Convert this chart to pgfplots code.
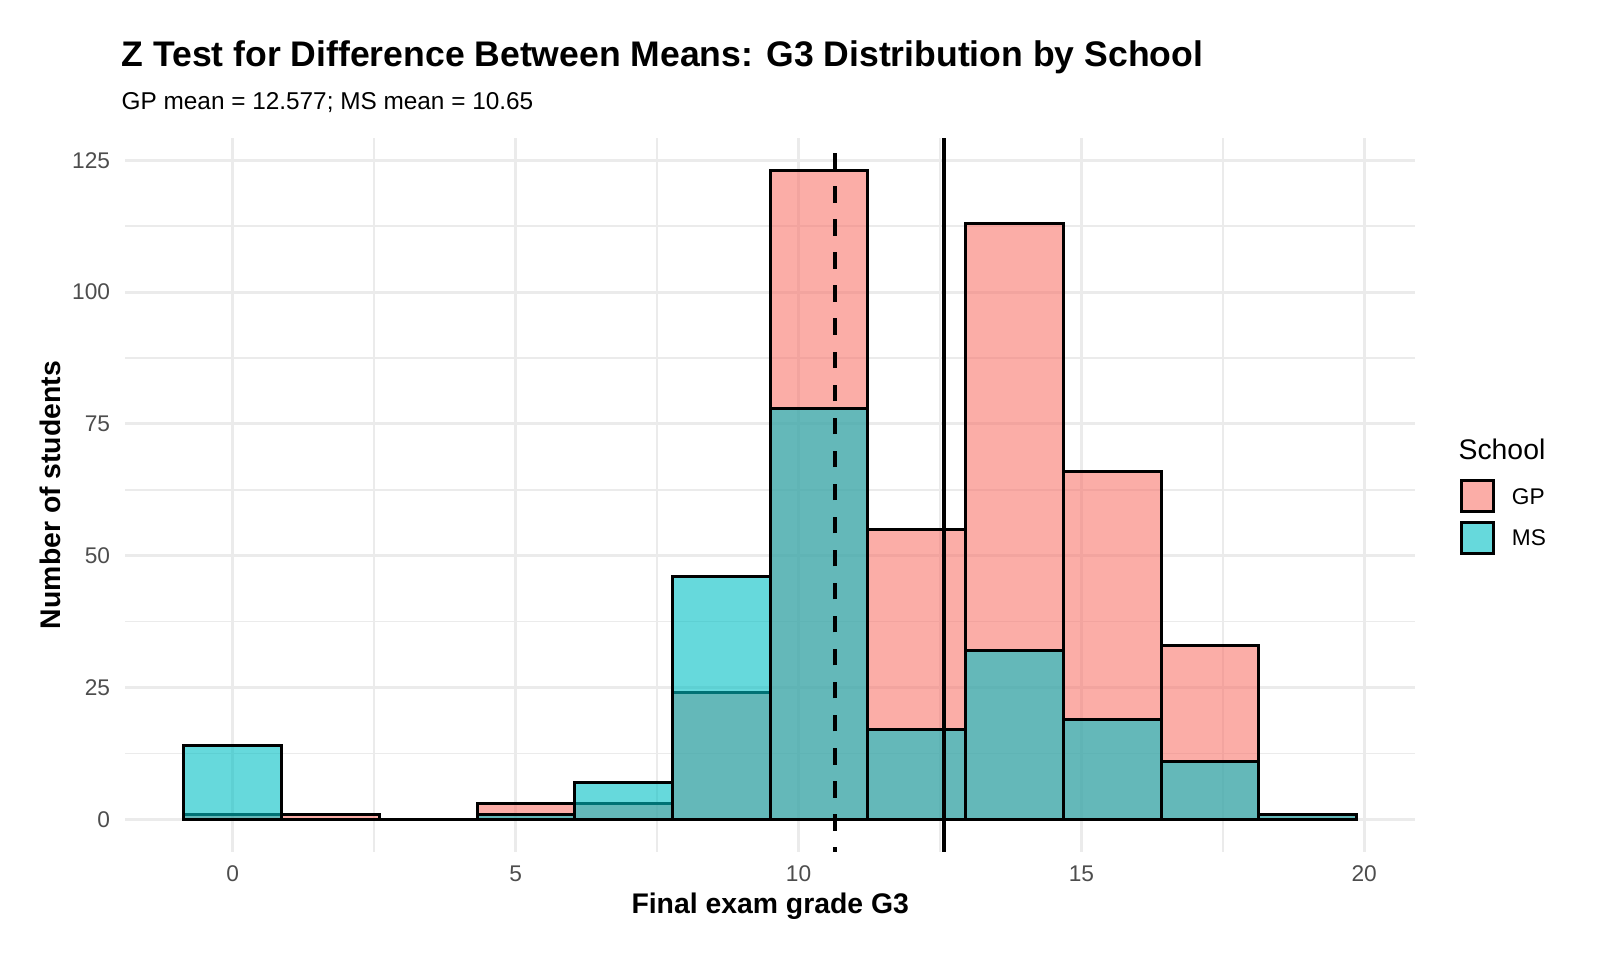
\documentclass[border=0pt]{standalone}
\usepackage{pgfplots}
\pgfplotsset{compat=1.18}
\usepackage{fontspec}
\setmainfont{Liberation Sans}

\definecolor{gpfill}{HTML}{F8766D}
\definecolor{msfill}{HTML}{00BFC4}
\definecolor{gridgrey}{HTML}{EBEBEB}
\definecolor{ticktext}{HTML}{4D4D4D}

% Bin centres (width 19/11) and counts of final grades per school
\pgfplotstableread{
x        gp   ms
0.00000  1    14
1.72727  1    0
3.45455  0    0
5.18182  3    1
6.90909  3    7
8.63636  24   46
10.36364 123  78
12.09091 55   17
13.81818 113  32
15.54545 66   19
17.27273 33   11
19.00000 1    1
}\gradetable

\begin{document}
\begin{tikzpicture}
\useasboundingbox (-45.28pt,-39.1pt) rectangle (532.9pt,307.8pt);
\begin{axis}[
  at={(0pt,0pt)}, anchor=south west,
  scale only axis, width=466.1pt, height=257.8pt,
  xmin=-1.9, xmax=20.9, ymin=-6.15, ymax=129.15,
  axis line style={draw=none},
  tick style={draw=none},
  major tick length=0pt, minor tick length=0pt,
  xtick={0,5,10,15,20}, ytick={0,25,50,75,100,125},
  minor xtick={2.5,7.5,12.5,17.5},
  minor ytick={12.5,37.5,62.5,87.5,112.5},
  grid=both,
  major grid style={gridgrey, line width=1.07pt},
  minor grid style={gridgrey, line width=0.53pt},
  /pgf/number format/assume math mode=true,
  ticklabel style={font=\fontsize{8.2}{9.8}\selectfont, text=ticktext, inner sep=0pt},
  xticklabel style={anchor=base, yshift=-10.62pt},
  yticklabel style={anchor=east, xshift=-5.3pt},
  xlabel={Final exam grade G3},
  ylabel={Number of students},
  every axis x label/.style={at={(axis description cs:0.5,-0.08611)}, anchor=base,
    inner sep=0pt, font=\bfseries\fontsize{10.25}{12}\selectfont},
  every axis y label/.style={at={(axis description cs:-0.05,0.5)}, rotate=90, anchor=base,
    inner sep=0pt, font=\bfseries\fontsize{10.25}{12}\selectfont},
  legend style={at={(axis description cs:1.03454,0.5225)}, anchor=north west,
    draw=none, fill=none, inner sep=0pt, outer sep=0pt,
    row sep=2.65pt, column sep=6pt,
    font=\fontsize{8.2}{9.8}\selectfont,
    nodes={inner sep=0pt, outer sep=0pt, text depth=0pt}},
  legend cell align=left,
  legend image code/.code={\draw[#1, line width=1.07pt] (0pt,-5.65pt) rectangle (11.8pt,5.65pt);},
]
\addplot[ybar, bar width=1.72727, bar shift=0pt, fill=gpfill, fill opacity=0.6,
  draw=black, line width=1.07pt, line join=miter] table[x=x, y=gp] {\gradetable};
\addlegendentry{GP}
\addplot[ybar, bar width=1.72727, bar shift=0pt, fill=msfill, fill opacity=0.6,
  draw=black, line width=1.07pt, line join=miter] table[x=x, y=ms] {\gradetable};
\addlegendentry{MS}
% school means
\addplot[forget plot, black, line width=1.49pt, dash pattern=on 5.97pt off 5.97pt, dash phase=4.3pt]
  coordinates {(10.65,-6.15) (10.65,129.15)};
\addplot[forget plot, black, line width=1.49pt]
  coordinates {(12.577,-6.15) (12.577,129.15)};
\end{axis}
\node[anchor=base west, inner sep=0pt, font=\bfseries\fontsize{12.85}{15}\selectfont]
  at (-1.5pt,283.7pt) {Z Test for Difference Between Means: G3 Distribution by School};
\node[anchor=base west, inner sep=0pt, font=\fontsize{8.8}{10.5}\selectfont]
  at (-1.5pt,268.4pt) {GP mean = 12.577; MS mean = 10.65};
\node[anchor=base west, inner sep=0pt, font=\fontsize{10.25}{12}\selectfont]
  at (481.6pt,141.8pt) {School};
\end{tikzpicture}
\end{document}
